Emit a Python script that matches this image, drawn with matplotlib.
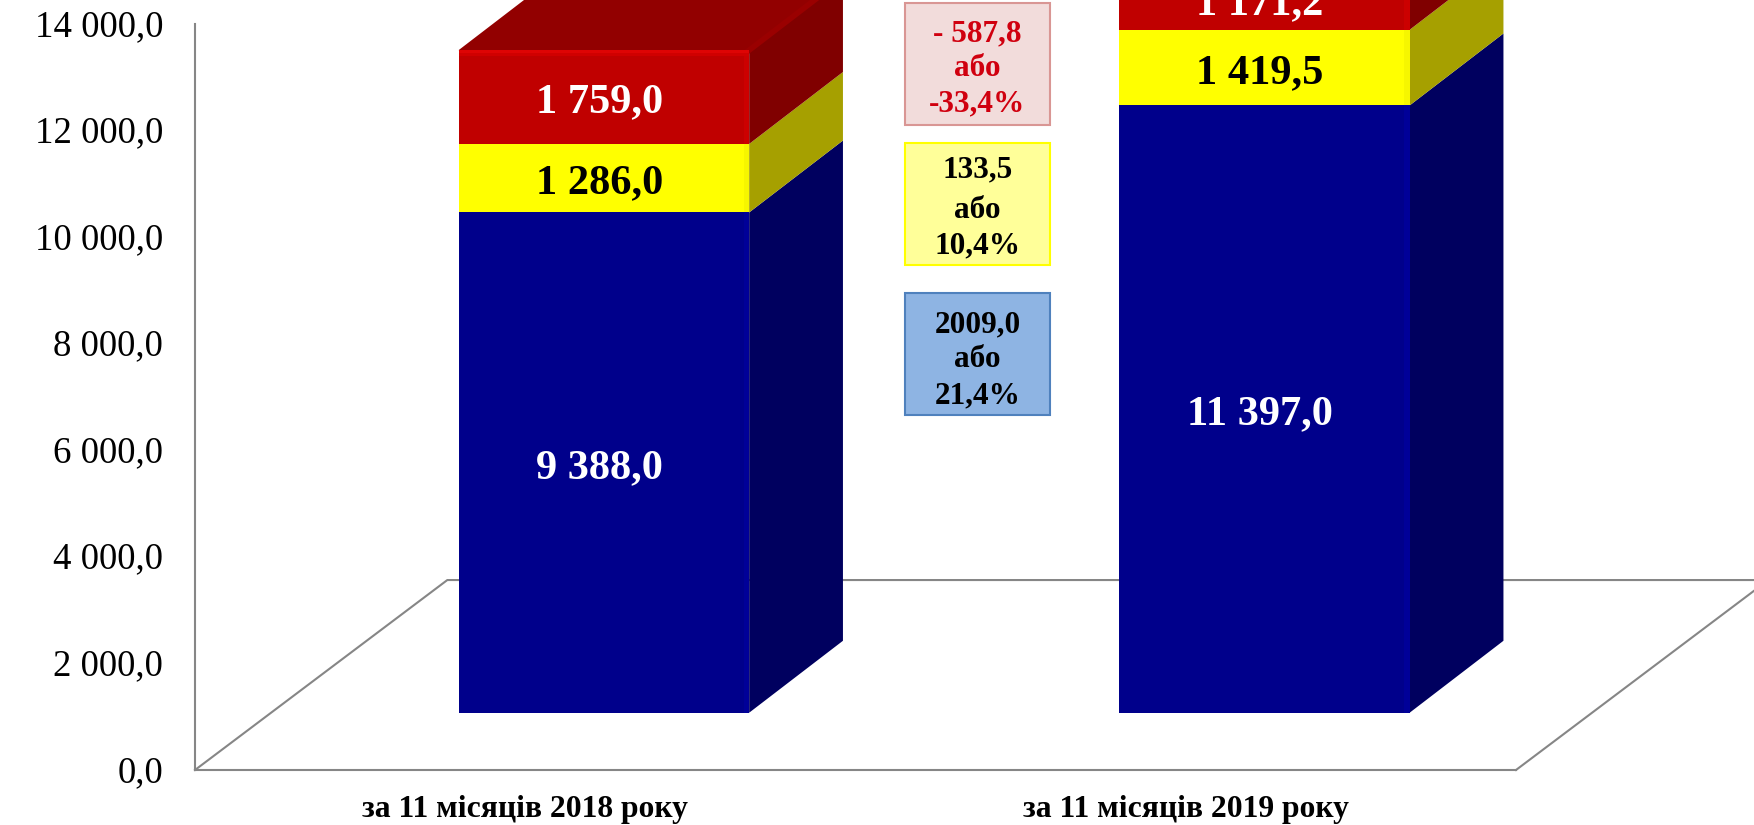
import matplotlib
matplotlib.use("Agg")
import matplotlib.pyplot as plt
from matplotlib.patches import Polygon, Rectangle
from matplotlib.ticker import FuncFormatter
from matplotlib.transforms import ScaledTranslation

plt.rcParams['font.family'] = ['Liberation Serif', 'DejaVu Serif']

categories = ["за 11 місяців 2018 року", "за 11 місяців 2019 року"]
blue_values = [9388.0, 11397.0]
yellow_values = [1286.0, 1419.5]
red_values = [1759.0, 1171.2]
y_ticks = [0, 2000, 4000, 6000, 8000, 10000, 12000, 14000]

change_lines = [["- 587,8", "або", "-33,4%"],
                ["133,5", "або", "10,4%"],
                ["2009,0", "або", "21,4%"]]

# colours: front, side, top, label
red_style = ("#C00000", "#800000", "#920000", "white")
yellow_style = ("#FFFF00", "#A6A000", "#A6A000", "black")
blue_style = ("#00008B", "#00005F", "#00005F", "white")

W, H = 1754, 825
fig = plt.figure(figsize=(W / 100, H / 100), dpi=100)
ax = fig.add_axes([195 / W, 1 - 770 / H, (1516 - 195) / W, (770 - 24) / H])
ax.set_xlim(-0.5, 1.5)
ax.set_ylim(0, 14000)
ax.patch.set_alpha(0)

# 3d look, in data units
bar_width = 0.44
lift_x, lift_y = 0.119, 1075
side_x, side_y = 0.142, 1350
floor_x, floor_y = 0.382, 3565
axis_grey = "#868686"


def fmt_value(v, pos=None):
    s = f"{v:,.1f}".replace(",", " ").replace(".", ",")
    return s


# floor of the chart
ax.plot([-0.5, -0.5 + floor_x, 1.5 + floor_x], [0, floor_y, floor_y], color=axis_grey, lw=1.5, clip_on=False, zorder=1)
ax.plot([1.5, 1.5 + floor_x], [0, floor_y], color=axis_grey, lw=1.5, clip_on=False, zorder=1)


def draw_segment(i, bottom, value, style, is_top):
    front, side, top_col, txt = style
    left = i + lift_x - bar_width / 2
    right = left + bar_width
    y0 = bottom + lift_y
    y1 = y0 + value
    ax.bar(left, value, width=bar_width, bottom=y0, align="edge", color=front, clip_on=False, zorder=3)
    ax.add_patch(Polygon([(right, y0), (right + side_x, y0 + side_y), (right + side_x, y1 + side_y), (right, y1)],
                         closed=True, facecolor=side, edgecolor="none", clip_on=False, zorder=2))
    # soft lighter edge of the front face
    light = {"#C00000": "#CC0000", "#FFFF00": "#F6F600", "#00008B": "#000098"}[front]
    ax.add_patch(Rectangle((right - 0.008, y0), 0.008, value, facecolor=light, edgecolor="none", clip_on=False, zorder=4))
    if is_top:
        ax.add_patch(Polygon([(left, y1), (right, y1), (right + side_x, y1 + side_y), (left + side_x, y1 + side_y)],
                             closed=True, facecolor=top_col, edgecolor="none", clip_on=False, zorder=2))
        ax.plot([right, right + side_x], [y1, y1 + side_y], color="#9A0000", lw=4, clip_on=False, zorder=2.5)
        ax.add_patch(Rectangle((left, y1 - 110), bar_width, 110, facecolor="#D00000", edgecolor="none", clip_on=False, zorder=4))
        ax.add_patch(Rectangle((left, y1 - 60), bar_width, 60, facecolor="#DE0404", edgecolor="none", clip_on=False, zorder=4))
    ax.text(i + lift_x - 0.007, y0 + value / 2 - 100, fmt_value(value), ha="center", va="center", color=txt,
            fontsize=30.5, fontweight="bold", clip_on=False, zorder=5)


for i in range(len(categories)):
    draw_segment(i, 0, blue_values[i], blue_style, False)
    draw_segment(i, blue_values[i], yellow_values[i], yellow_style, False)
    draw_segment(i, blue_values[i] + yellow_values[i], red_values[i], red_style, True)

ax.set_yticks(y_ticks)
ax.yaxis.set_major_formatter(FuncFormatter(fmt_value))
ax.set_xticks(range(len(categories)))
ax.set_xticklabels(categories, fontsize=22.8, fontweight="bold")
ax.tick_params(axis="y", length=0, pad=23, labelsize=26.5)
ax.tick_params(axis="x", length=0, pad=18)
# y labels sit a little above their ticks in the original
nudge = ScaledTranslation(0, 1.5 / 100, fig.dpi_scale_trans)
for lab in ax.get_yticklabels():
    lab.set_transform(lab.get_transform() + nudge)
for name in ["top", "right"]:
    ax.spines[name].set_visible(False)
for name in ["left", "bottom"]:
    ax.spines[name].set_color(axis_grey)
    ax.spines[name].set_linewidth(1.5)

# change boxes between the bars (pixel positions from the top left)
box_x0, box_x1 = 905, 1050
boxes = [(3, 125, "#F2DCDB", "#D99694", "#D0000F", [34, 69, 104]),
         (143, 265, "#FFFF99", "#FFFF00", "black", [170, 210, 246]),
         (293, 415, "#8EB4E3", "#4F81BD", "black", [325, 360, 396])]
for (y0, y1, fill, edge, col, line_y), lines in zip(boxes, change_lines):
    fig.add_artist(Rectangle((box_x0 / W, 1 - y1 / H), (box_x1 - box_x0) / W, (y1 - y0) / H, facecolor=fill,
                             edgecolor=edge, lw=1.5, transform=fig.transFigure, zorder=6))
    for txt, y in zip(lines, line_y):
        fig.text((box_x0 + box_x1) / 2 / W, 1 - y / H, txt, ha="center", va="center", color=col,
                 fontsize=22.5, fontweight="bold", zorder=7)

fig.savefig("out.png", dpi=100)
